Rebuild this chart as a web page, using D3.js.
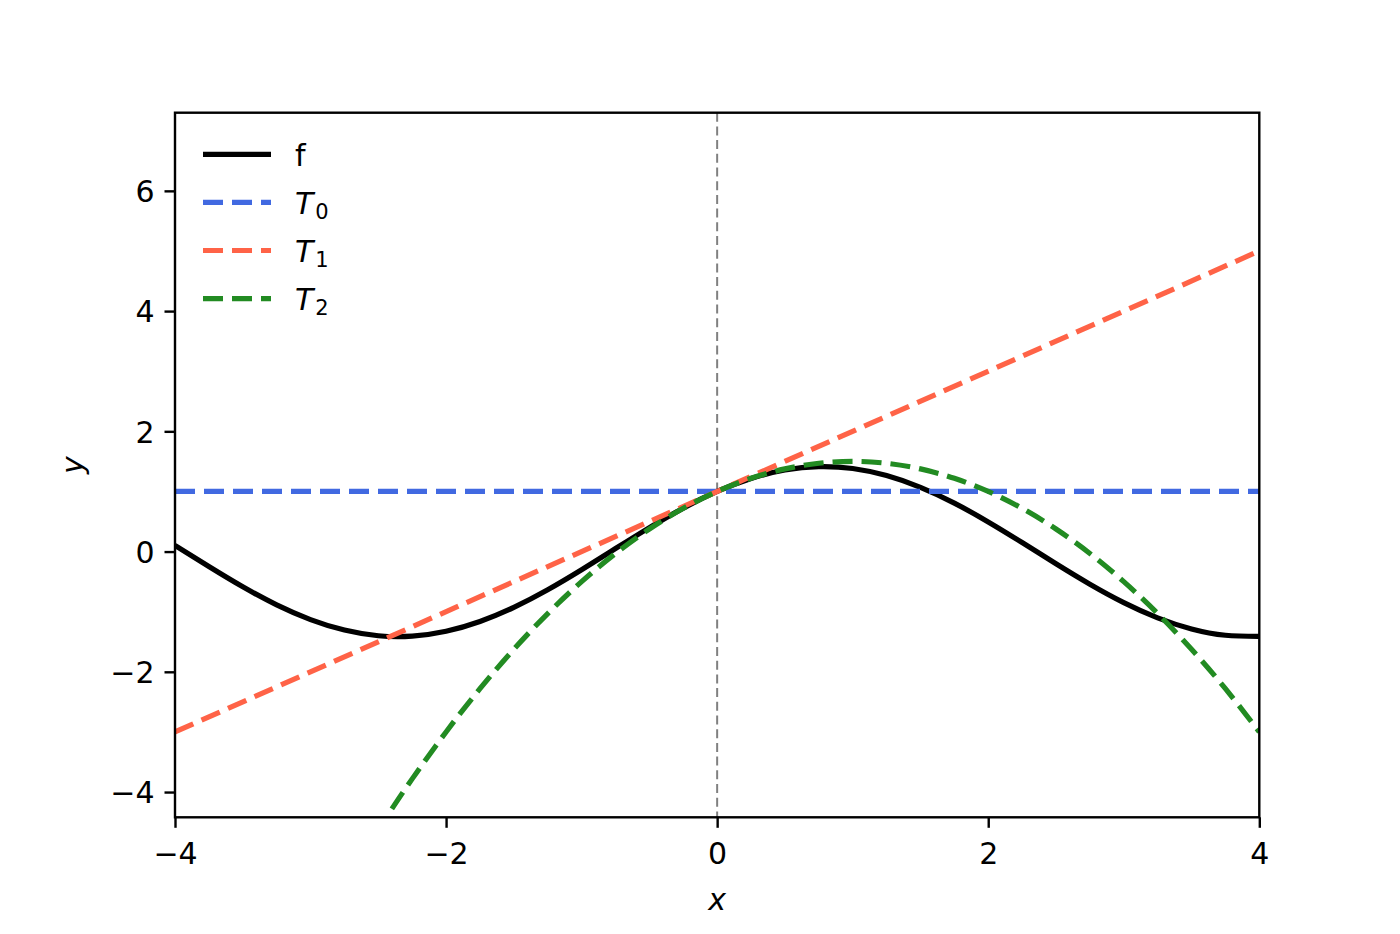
<!DOCTYPE html>
<html>
<head>
<meta charset="utf-8">
<script src="https://cdn.jsdelivr.net/npm/d3@7"></script>
<style>
    body { margin: 0; background: #fff; }
    svg { display: block; }
    text { font-family: "DejaVu Sans", sans-serif; fill: #000; }
</style>
</head>
<body>
<div id="chart"></div>
<script>
// Taylor approximations chart
// Values

const xTicks = [-4, -2, 0, 2, 4];
const yTicks = [-4, -2, 0, 2, 4, 6];

// f, sampled every 0.25
const fX = [-4, -3.75, -3.5, -3.25, -3, -2.75, -2.5, -2.25, -2, -1.75, -1.5, -1.25, -1, -0.75, -0.5, -0.25,
    0, 0.25, 0.5, 0.75, 1, 1.25, 1.5, 1.75, 2, 2.25, 2.5, 2.75, 3, 3.25, 3.5, 3.75, 4];
const fY = [0.103, -0.249, -0.586, -0.886, -1.131, -1.306, -1.400, -1.406, -1.325, -1.162, -0.927, -0.634, -0.301, 0.050, 0.398, 0.722,
    1.0, 1.216, 1.357, 1.413, 1.382, 1.264, 1.068, 0.806, 0.493, 0.150, -0.203, -0.543, -0.849, -1.102, -1.287, -1.392, -1.410];

// T0 and T1 are straight lines: end points
const t0X = [-4, 4];
const t0Y = [1, 1];
const t1X = [-4, 4];
const t1Y = [-3, 5];

// T2 starts where it enters the plot
const t2X = [-2.4, -2.25, -2, -1.75, -1.5, -1.25, -1, -0.75, -0.5, -0.25,
    0, 0.25, 0.5, 0.75, 1, 1.25, 1.5, 1.75, 2, 2.25, 2.5, 2.75, 3, 3.25, 3.5, 3.75, 4];
const t2Y = [-4.28, -3.781, -3, -2.281, -1.625, -1.031, -0.5, -0.031, 0.375, 0.719,
    1, 1.219, 1.375, 1.469, 1.5, 1.469, 1.375, 1.219, 1, 0.719, 0.375, -0.031, -0.5, -1.031, -1.625, -2.281, -3];

const seriesNames = ["f", "T0", "T1", "T2"];
const seriesColors = ["#000000", "#4169E1", "#FF6347", "#228B22"];

// Layout
const WIDTH = 1400;
const HEIGHT = 934;
const LEFT = 175;
const RIGHT = 1259.3;
const TOP = 112.7;
const BOTTOM = 817.3;
const FONT = 30;
const LINE_W = 5.2;

const svg = d3.select('#chart')
    .append('svg')
    .attr('width', WIDTH)
    .attr('height', HEIGHT);

const x = d3.scaleLinear().domain([-4, 4]).range([LEFT, RIGHT]);
const y = d3.scaleLinear().domain([-4.42, 7.30]).range([BOTTOM, TOP]);

svg.append('clipPath')
    .attr('id', 'plot-clip')
    .append('rect')
    .attr('x', LEFT)
    .attr('y', TOP)
    .attr('width', RIGHT - LEFT)
    .attr('height', BOTTOM - TOP);

const plot = svg.append('g').attr('clip-path', 'url(#plot-clip)');

// Vertical dashed line at x = 0
plot.append('line')
    .attr('x1', x(0))
    .attr('x2', x(0))
    .attr('y1', TOP)
    .attr('y2', BOTTOM)
    .attr('stroke', '#808080')
    .attr('stroke-width', 2)
    .attr('stroke-dasharray', '9,4.7');

const line = d3.line()
    .x(d => x(d[0]))
    .y(d => y(d[1]))
    .curve(d3.curveNatural);

const series = [
    d3.zip(fX, fY),
    d3.zip(t0X, t0Y),
    d3.zip(t1X, t1Y),
    d3.zip(t2X, t2Y)
];

series.forEach((pts, i) => {
    plot.append('path')
        .datum(pts)
        .attr('d', line)
        .attr('fill', 'none')
        .attr('stroke', seriesColors[i])
        .attr('stroke-width', LINE_W)
        .attr('stroke-dasharray', i === 0 ? null : '20,9');
});

// Axes
const minusFormat = d => d3.format('d')(d).replace('-', '\u2212');

const xAxis = svg.append('g')
    .attr('transform', `translate(0,${BOTTOM})`)
    .call(d3.axisBottom(x).tickValues(xTicks).tickSize(10.5).tickPadding(14).tickFormat(minusFormat));

const yAxis = svg.append('g')
    .attr('transform', `translate(${LEFT},0)`)
    .call(d3.axisLeft(y).tickValues(yTicks).tickSize(10.5).tickPadding(10).tickFormat(minusFormat));

[xAxis, yAxis].forEach(ax => {
    ax.select('.domain').remove();
    ax.selectAll('.tick line').attr('stroke', '#000').attr('stroke-width', 2.4);
    ax.selectAll('.tick text')
        .style('font-family', '"DejaVu Sans", sans-serif')
        .style('font-size', FONT + 'px')
        .attr('fill', '#000');
});
xAxis.selectAll('.tick text').attr('dy', '0.74em');
yAxis.selectAll('.tick text').attr('dy', '0.36em');

// Frame
svg.append('rect')
    .attr('x', LEFT)
    .attr('y', TOP)
    .attr('width', RIGHT - LEFT)
    .attr('height', BOTTOM - TOP)
    .attr('fill', 'none')
    .attr('stroke', '#000')
    .attr('stroke-width', 2.4);

// Axis labels
svg.append('text')
    .attr('x', x(0))
    .attr('y', 910)
    .attr('text-anchor', 'middle')
    .style('font-size', FONT + 'px')
    .style('font-style', 'italic')
    .text('x');

svg.append('text')
    .attr('transform', `translate(83,${(TOP + BOTTOM) / 2}) rotate(-90)`)
    .attr('text-anchor', 'middle')
    .style('font-size', FONT + 'px')
    .style('font-style', 'italic')
    .text('y');

// Legend
const legend = svg.append('g').attr('class', 'legend');
seriesNames.forEach((name, i) => {
    const rowY = 154.3 + i * 48.1;
    legend.append('line')
        .attr('x1', 203)
        .attr('x2', 271)
        .attr('y1', rowY)
        .attr('y2', rowY)
        .attr('stroke', seriesColors[i])
        .attr('stroke-width', LINE_W)
        .attr('stroke-dasharray', i === 0 ? null : '20,9');

    const label = legend.append('text')
        .attr('x', 295)
        .attr('y', rowY + 11.5)
        .style('font-size', FONT + 'px');

    if (i === 0) {
        label.text(name);
    } else {
        label.append('tspan')
            .style('font-style', 'italic')
            .text('T');
        label.append('tspan')
            .attr('dx', 2)
            .attr('dy', 5)
            .style('font-size', '21px')
            .text(name.slice(1));
    }
});
</script>
</body>
</html>
